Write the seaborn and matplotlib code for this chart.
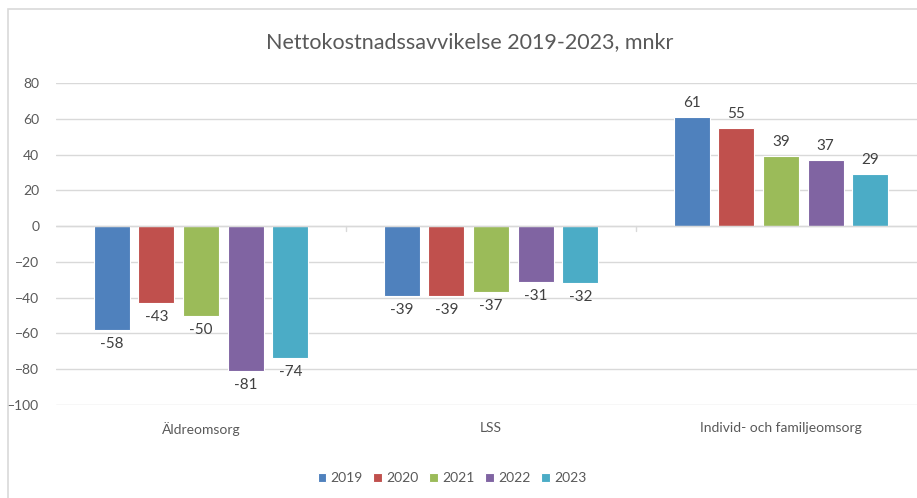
import matplotlib
matplotlib.use('AGG')
import matplotlib.pyplot as plt
import seaborn as sns
import pandas as pd

# chart data
categories = ["Äldreomsorg", "LSS", "Individ- och familjeomsorg"]
years = ["2019", "2020", "2021", "2022", "2023"]
v2019 = [-58, -39, 61]
v2020 = [-43, -39, 55]
v2021 = [-50, -37, 39]
v2022 = [-81, -31, 37]
v2023 = [-74, -32, 29]
colors = ["#4F81BD", "#C0504D", "#9BBB59", "#8064A2", "#4BACC6"]


def make_frame():
    rows = []
    for year, vals in zip(years, [v2019, v2020, v2021, v2022, v2023]):
        for cat, v in zip(categories, vals):
            rows.append({"Kategori": cat, "År": year, "Värde": v})
    return pd.DataFrame(rows)


def plot_bars(df):
    sns.set_style("white")
    plt.rcParams['font.family'] = ['Lato', 'DejaVu Sans']
    fig = plt.figure(figsize=(9.17, 4.98), dpi=100)
    ax = fig.add_axes([56 / 917, 1 - 405 / 498, 870 / 917, 322 / 498])

    sns.barplot(data=df, x="Kategori", y="Värde", hue="År", palette=colors,
                width=0.77, gap=0.2, edgecolor="white", linewidth=0.8,
                saturation=1, ax=ax, legend=True)

    ax.set_ylim(-100, 80)
    ax.set_yticks(range(-100, 81, 20))
    ax.set_xlim(-0.5, 2.5)
    ax.yaxis.grid(True, color="#d9d9d9", linewidth=1)
    ax.set_axisbelow(True)
    for s in ax.spines.values():
        s.set_visible(False)
    ax.axhline(0, color="#d9d9d9", linewidth=1, zorder=1)
    # small category separator ticks on the zero line
    for xp in [0.5, 1.5]:
        ax.plot([xp, xp], [0, -3], color="#d9d9d9", linewidth=1, zorder=1)

    ax.tick_params(axis="y", length=0, labelsize=10, labelcolor="#595959", pad=12)
    ax.tick_params(axis="x", length=0, labelsize=10, labelcolor="#595959", pad=12)
    ax.set_xlabel("")
    ax.set_ylabel("")

    for cont in ax.containers:
        labels = [f"{int(v)}" for v in cont.datavalues]
        ax.bar_label(cont, labels=labels, padding=5, fontsize=11, color="#404040")

    ax.legend(loc="upper center", bbox_to_anchor=(0.455, -0.17), ncol=5,
              frameon=False, fontsize=10, handlelength=0.6, handleheight=0.6,
              columnspacing=0.8, handletextpad=0.3, labelcolor="#595959")

    fig.text(470 / 917, 1 - 42 / 498, "Nettokostnadssavvikelse 2019-2023, mnkr",
             ha="center", va="center", fontsize=15.5, color="#595959")

    border = plt.Rectangle((8 / 917, -0.1), 1.2, 1 - 9 / 498 + 0.1,
                           transform=fig.transFigure, fill=False,
                           edgecolor="#d9d9d9", linewidth=1.2)
    fig.patches.append(border)

    fig.savefig("out.png", dpi=100)


def main():
    df = make_frame()
    plot_bars(df)


if __name__ == "__main__":
    main()
